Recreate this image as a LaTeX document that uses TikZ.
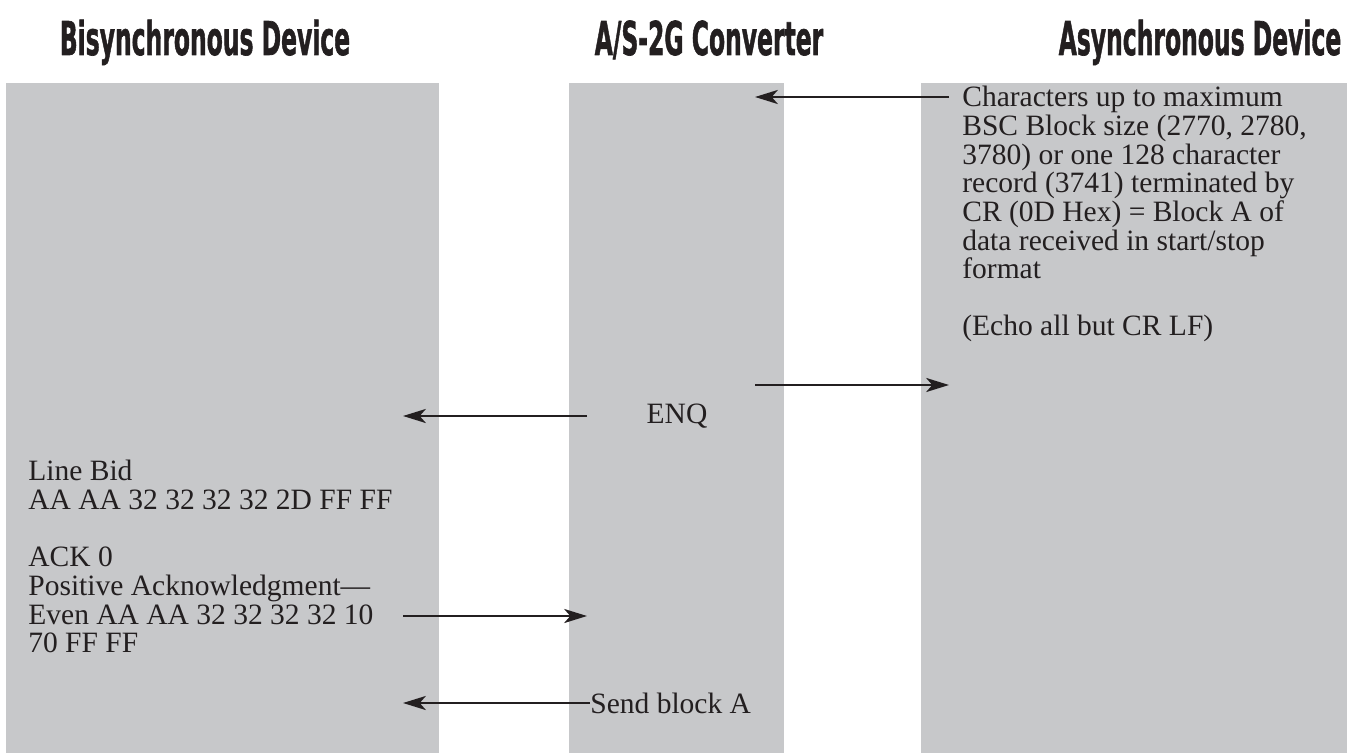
\documentclass[tikz,border=0pt]{standalone}
\usepackage{fontspec}
\setmainfont{Liberation Serif}
\newfontfamily\headfont{DejaVu Sans Condensed}[BoldFeatures={FakeBold=1.5}]
\usetikzlibrary{arrows.meta}

\definecolor{colgray}{RGB}{199,200,202}
\definecolor{ink}{RGB}{35,31,32}

\newcommand{\narrowhead}[1]{\scalebox{0.56}[1]{#1}}

\tikzstyle{column} = [fill=colgray]
\tikzstyle{header} = [font=\headfont\bfseries\fontsize{26.5}{30}\selectfont, text=ink, anchor=base, inner sep=0pt]
\tikzstyle{msg} = [font=\fontsize{16.8}{16.3}\selectfont, align=left, inner sep=0pt, text=ink]
\tikzstyle{signal} = [draw=ink, line width=1.4pt, -{Stealth[length=13pt,width=8pt,inset=3.5pt]}]

\begin{document}
\begin{tikzpicture}[x=0.02cm, y=-0.02cm]
	\useasboundingbox (0,0) rectangle (1351,753);

	% the three columns
	\fill[column] (6,83) rectangle (439,753);
	\fill[column] (569,83) rectangle (784,753);
	\fill[column] (921,83) rectangle (1347,753);

	\node[header] (hbisync) at (205,55) {\narrowhead{Bisynchronous Device}};
	\node[header] (hconv) at (709,55) {\narrowhead{A/S-2G Converter}};
	\node[header] (hasync) at (1200,55) {\narrowhead{Asynchronous Device}};

	\node[msg, anchor=north west] (blocka) at (962,86) {Characters up to maximum\\BSC Block size (2770, 2780,\\3780) or one 128 character\\record (3741) terminated by\\CR (0D Hex) = Block A of\\data received in start/stop\\format\\[16.3pt](Echo all but CR LF)};
	\node[msg] (enq) at (677,416) {ENQ};
	\node[msg, anchor=north west] (linebid) at (28,460) {Line Bid\\AA AA 32 32 32 32 2D FF FF\\[16.3pt]ACK 0\\Positive Acknowledgment---\\Even AA AA 32 32 32 32 10\\70 FF FF};
	\node[msg, anchor=west] (send) at (590,703) {Send block A};

	\coordinate (async1) at (949,97);
	\coordinate (conv1) at (755,97);
	\coordinate (conv2) at (755,385);
	\coordinate (async2) at (949,385);
	\coordinate (conv3) at (587,416);
	\coordinate (bisync3) at (403,416);
	\coordinate (bisync4) at (403,616);
	\coordinate (conv4) at (587,616);
	\coordinate (bisync5) at (403,703);

	\draw[signal] (async1) -- (conv1);
	\draw[signal] (conv2) -- (async2);
	\draw[signal] (conv3) -- (bisync3);
	\draw[signal] (bisync4) -- (conv4);
	\draw[signal] (send.west) -- (bisync5);
\end{tikzpicture}
\end{document}
